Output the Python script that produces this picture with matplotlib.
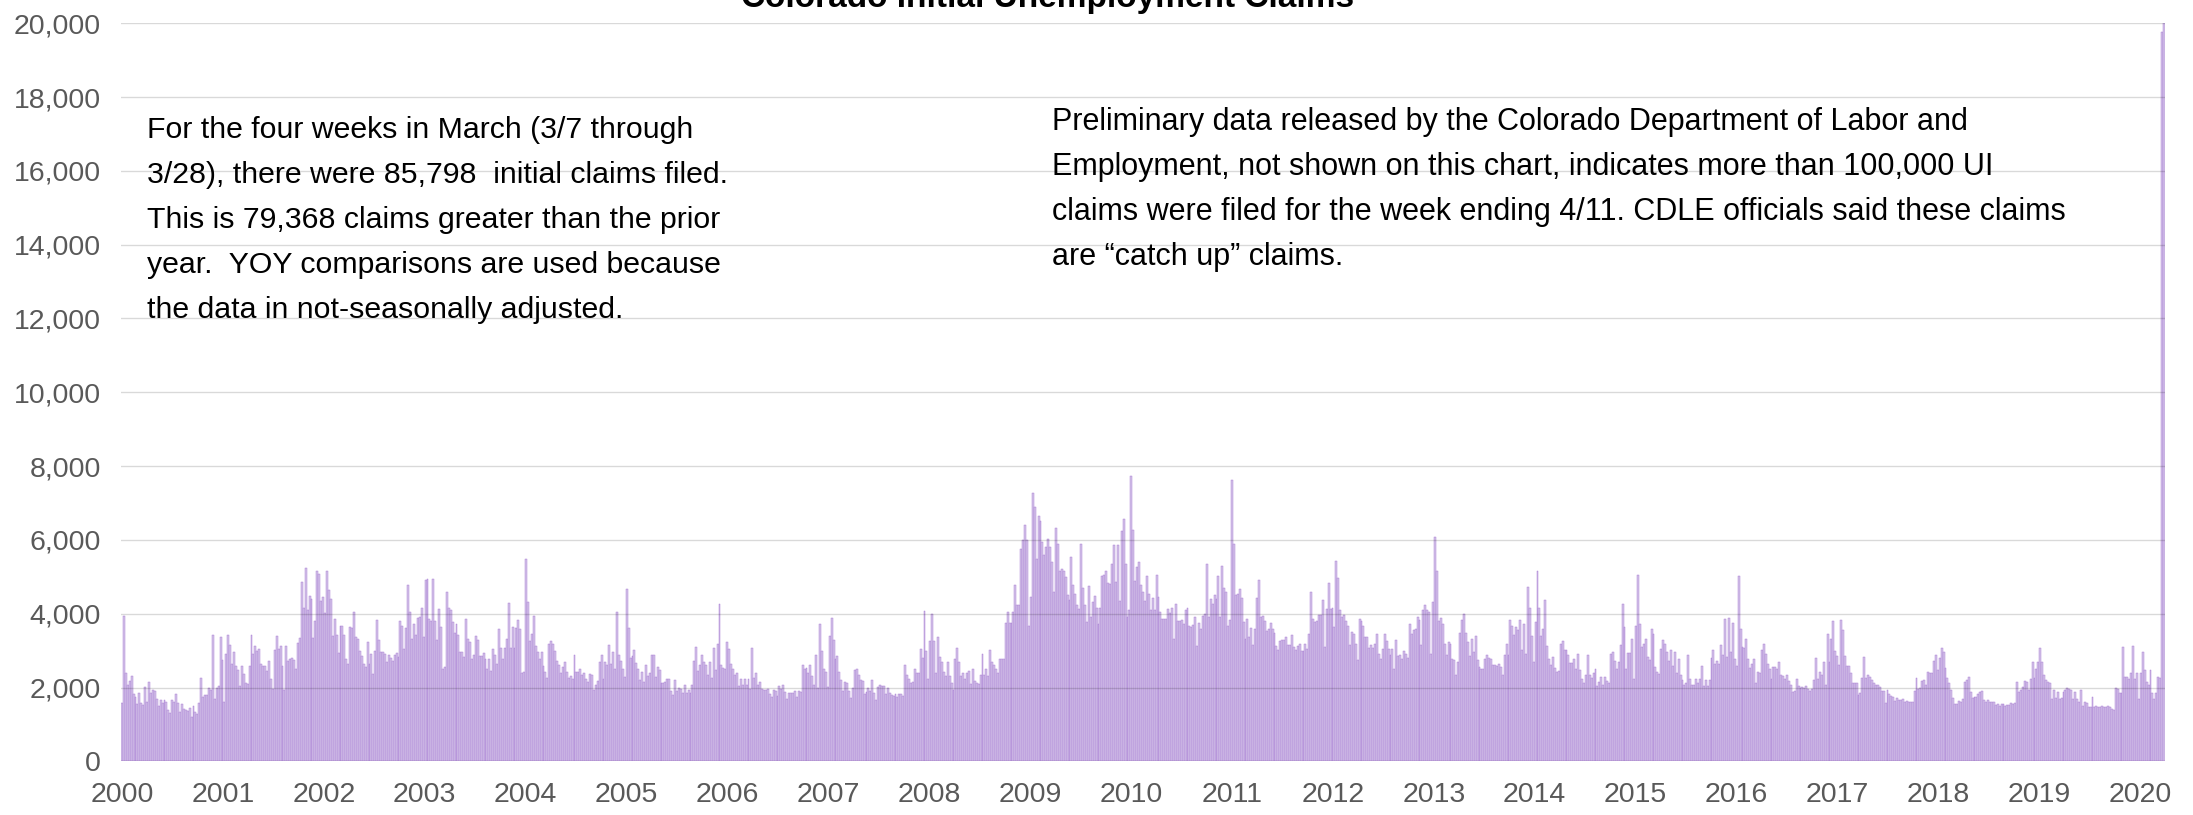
import matplotlib
matplotlib.use("Agg")
import matplotlib.pyplot as plt
import numpy as np
import pandas as pd

plt.rcParams['font.family'] = ['Liberation Sans', 'DejaVu Sans']

title = "Colorado Initial Unemployment Claims"

claims_2000 = [1570, 3950, 2380, 2060, 2170, 2300, 1820, 1750, 1540, 1840,
               1570, 1520, 2010, 1610, 2140, 1850, 1930, 1900, 1700, 1490,
               1660, 1570, 1660, 1610, 1390, 1320, 1650, 1610, 1820, 1570,
               1340, 1540, 1430, 1390, 1370, 1450, 1210, 1500, 1340, 1270,
               1570, 2260, 1730, 1790, 1790, 1990, 1930, 3430, 1680, 2000,
               2050, 3370, 2740]
claims_2001 = [1610, 2920, 3410, 3140, 2630, 2950, 2590, 2470, 2040, 2590,
               2360, 2110, 2090, 2590, 3430, 2920, 3120, 2980, 3040, 2630,
               2580, 2580, 2440, 2720, 2240, 1970, 3010, 3400, 3040, 3120,
               2590, 1930, 3120, 2710, 2770, 2800, 2740, 2510, 3210, 3340,
               4870, 4160, 5250, 4090, 4470, 4410, 3340, 3800, 5170, 5080,
               4340, 4440]
claims_2002 = [4030, 5170, 4650, 4390, 3390, 3860, 3410, 2940, 3680, 3660,
               3410, 2780, 2630, 3640, 3600, 4050, 3370, 3320, 2980, 2850,
               2650, 2560, 3220, 2650, 2900, 2360, 2980, 3840, 3280, 2960,
               2950, 2920, 2690, 2870, 2800, 2710, 2890, 2940, 2830, 3800,
               3660, 3040, 3610, 4780, 4050, 3310, 3710, 3410, 3890, 3910,
               4150, 3370]
claims_2003 = [4900, 4950, 3860, 3800, 4950, 3800, 3280, 4140, 3640, 2510,
               2560, 4590, 4160, 4090, 3770, 3480, 3730, 3410, 2960, 2960,
               2830, 3860, 3320, 3230, 2770, 2890, 3400, 3300, 2850, 2850,
               2930, 2770, 2490, 2780, 2440, 3040, 2890, 2650, 3580, 3080,
               2770, 3080, 3310, 4300, 3070, 3640, 3070, 3620, 3840, 3580,
               2380, 2410]
claims_2004 = [5490, 4320, 3250, 3440, 3950, 3120, 2950, 2770, 2960, 2590,
               2420, 2260, 3190, 3250, 3190, 2980, 2710, 2620, 2400, 2560,
               2680, 2420, 2260, 2310, 2240, 2890, 2420, 2420, 2510, 2330,
               2380, 2240, 2140, 2360, 2330, 1930, 2080, 2170, 2680, 2870,
               2230, 2690, 2600, 3140, 2630, 2960, 2510, 4050, 2870, 2710,
               2500, 2290]
claims_2005 = [4680, 3600, 2810, 2860, 3010, 2670, 2510, 2200, 2420, 2150,
               2600, 2320, 2380, 2890, 2890, 2290, 2560, 2470, 2110, 2110,
               2140, 2220, 2220, 1900, 1810, 2200, 1900, 2000, 1970, 1860,
               2060, 1860, 1930, 1860, 2060, 2710, 3100, 2440, 2620, 2870,
               2690, 2620, 2350, 2680, 2270, 3080, 2470, 3170, 4270, 2620,
               2530, 2500, 3230]
claims_2006 = [3030, 2650, 2510, 2330, 2380, 2040, 2230, 2080, 2230, 2060,
               2240, 1950, 3070, 2260, 2400, 2060, 2150, 1970, 1930, 1930,
               1970, 1820, 1730, 1930, 1910, 1770, 2040, 1950, 2060, 1880,
               1700, 1860, 1860, 1840, 1900, 1750, 1900, 1880, 2600, 2510,
               2530, 2400, 2600, 2300, 2080, 2870, 2000, 3730, 2980, 2490,
               2410, 2020]
claims_2007 = [3400, 3880, 3280, 2770, 2850, 2420, 2200, 1900, 2150, 2130,
               1900, 1720, 2000, 2470, 2490, 2330, 2200, 2170, 1820, 1880,
               2000, 1900, 2200, 1860, 1660, 2020, 2060, 2040, 2050, 1820,
               1990, 1840, 1790, 1770, 1820, 1730, 1820, 1820, 1770, 2600,
               2330, 2220, 2130, 2150, 2500, 2400, 2400, 3040, 2800, 4070,
               2990, 2240]
claims_2008 = [3250, 4000, 3260, 2400, 3370, 2830, 2680, 2420, 2310, 2680,
               2310, 2130, 1930, 2760, 3070, 2680, 2310, 2380, 2240, 2380,
               2440, 2090, 2490, 2180, 2110, 2090, 2330, 2920, 2330, 2490,
               2310, 3010, 2680, 2600, 2510, 2400, 2780, 2760, 2780, 3760,
               4050, 3760, 3750, 4050, 4790, 4230, 4230, 5760, 6010, 6410,
               6000, 3680]
claims_2009 = [4450, 7270, 6880, 5470, 6660, 6520, 5950, 5580, 5800, 6030,
               5800, 5400, 4590, 6320, 5890, 5170, 5200, 5170, 4990, 4500,
               4360, 5530, 4790, 4540, 4230, 4120, 5890, 4700, 4230, 3770,
               4740, 3910, 4330, 4480, 4160, 3710, 4160, 5010, 5040, 5150,
               4840, 4810, 5350, 5850, 4860, 5850, 4340, 6230, 6570, 5350,
               3910, 4110]
claims_2010 = [7720, 6270, 4880, 5260, 5400, 4790, 4590, 4340, 5020, 4540,
               4090, 4430, 4090, 5040, 4450, 4050, 3860, 3860, 3860, 4120,
               4020, 4160, 3320, 4270, 3800, 3800, 3820, 3730, 4100, 4160,
               3660, 3640, 3700, 3900, 3120, 3750, 3580, 3950, 4000, 5350,
               3900, 4390, 4250, 4500, 4390, 5020, 3900, 5280, 4700, 4590,
               3660, 3820]
claims_2011 = [7630, 5890, 4500, 4540, 4660, 4420, 3770, 3320, 3850, 3370,
               3620, 3160, 3580, 4420, 4900, 3910, 3930, 3800, 3530, 3580,
               3750, 3590, 3480, 3130, 3010, 3260, 3300, 3300, 3370, 3140,
               3140, 3410, 3100, 3010, 3130, 3190, 2980, 3000, 3190, 3050,
               3460, 4600, 3860, 3770, 3790, 3970, 3970, 4360, 3100, 4140,
               4830, 4140, 4160]
claims_2012 = [3640, 5440, 4960, 4090, 3910, 3970, 3800, 3680, 3140, 3500,
               3440, 3190, 2740, 3860, 3800, 3680, 3370, 3370, 3070, 3140,
               3070, 3190, 3440, 2900, 2770, 3040, 3460, 3250, 3050, 2890,
               3050, 2500, 3300, 2860, 2870, 2770, 2990, 2920, 2800, 3730,
               3460, 3570, 3590, 3910, 3830, 3160, 4090, 4240, 4090, 4050,
               2920, 4320]
claims_2013 = [6070, 5170, 3800, 3890, 3730, 3170, 2870, 3230, 3190, 2780,
               2740, 2330, 2700, 3490, 3820, 4000, 3490, 3220, 2860, 3320,
               2960, 3390, 2740, 2560, 2500, 2510, 2770, 2890, 2800, 2760,
               2620, 2600, 2590, 2650, 2560, 2330, 2870, 3170, 2870, 3840,
               3670, 3410, 3640, 3550, 3840, 3010, 3730, 2900, 4720, 4160,
               3390, 2680]
claims_2014 = [3770, 5150, 4160, 3390, 3590, 4360, 3120, 2780, 2620, 2830,
               2530, 2420, 2440, 3190, 3250, 3010, 3010, 2890, 2670, 2670,
               2770, 2500, 2920, 2470, 2230, 2110, 2350, 2890, 2330, 2260,
               2380, 2490, 2040, 2150, 2290, 2060, 2290, 2180, 2110, 2900,
               2950, 2720, 2510, 2680, 3140, 4250, 3640, 2510, 2940, 2940,
               3320, 2220]
claims_2015 = [3670, 5060, 3730, 3100, 3190, 3320, 2830, 2740, 3590, 3460,
               2560, 2410, 2360, 3050, 3300, 3190, 2960, 2710, 3010, 2590,
               2960, 2380, 2760, 2330, 2200, 2060, 2130, 2870, 2230, 2080,
               2080, 2220, 2110, 2240, 2580, 2050, 2200, 2040, 2200, 2810,
               3010, 2630, 2710, 2630, 3160, 2870, 3860, 2830, 3890, 2960,
               3750, 2780]
claims_2016 = [2590, 5010, 3590, 3100, 3070, 3320, 2780, 2530, 2650, 2770,
               2110, 2420, 2380, 3010, 3190, 2920, 2650, 2510, 2240, 2560,
               2560, 2510, 2680, 2330, 2300, 2240, 2330, 2170, 2060, 1880,
               1910, 2240, 2050, 1990, 2020, 2000, 2050, 1950, 1900, 1950,
               2200, 2800, 2240, 2410, 2330, 2690, 2060, 3440, 2690, 3320,
               3800, 2980, 2850]
claims_2017 = [2600, 3820, 3550, 2850, 2590, 2590, 2380, 2110, 2110, 2110,
               1790, 1840, 2260, 2830, 2260, 2330, 2290, 2190, 2130, 2080,
               2060, 2010, 1900, 1900, 1570, 1940, 1820, 1780, 1750, 1640,
               1710, 1650, 1650, 1680, 1600, 1640, 1600, 1610, 1610, 1900,
               2260, 1960, 1990, 2180, 2190, 2080, 2430, 2380, 2400, 2710,
               2880, 2470]
claims_2018 = [2790, 3070, 2960, 2540, 2260, 2130, 1920, 1710, 1540, 1540,
               1640, 1600, 1680, 2150, 2190, 2290, 1880, 1710, 1740, 1750,
               1820, 1880, 1900, 1670, 1610, 1650, 1610, 1610, 1600, 1530,
               1560, 1500, 1540, 1540, 1510, 1530, 1530, 1570, 1540, 1570,
               2150, 1880, 1920, 2010, 2170, 2150, 1940, 2240, 2680, 2260,
               2510, 2680]
claims_2019 = [3070, 2680, 2330, 2190, 2150, 2130, 1700, 1920, 1710, 1880,
               1680, 1710, 1880, 1920, 1990, 1960, 1920, 1680, 1880, 1680,
               1600, 1920, 1500, 1610, 1570, 1460, 1460, 1740, 1480, 1500,
               1460, 1460, 1490, 1470, 1470, 1490, 1460, 1430, 1400, 1990,
               1960, 1850, 1850, 3100, 2290, 2290, 2240, 2400, 3130, 2240,
               2380, 1680]
claims_2020 = [2400, 2960, 2470, 2150, 2060, 2470, 1850, 1680, 1850, 2290,
               2260, 19760, 61488]

first_week = "2000-01-01"
years = list(range(2000, 2021))
year_labels = [str(y) for y in years]
y_ticks = list(range(0, 20001, 2000))

note_left = ["For the four weeks in March (3/7 through",
             "3/28), there were 85,798  initial claims filed.",
             "This is 79,368 claims greater than the prior",
             "year.  YOY comparisons are used because",
             "the data in not-seasonally adjusted."]
note_right = ["Preliminary data released by the Colorado Department of Labor and",
              "Employment, not shown on this chart, indicates more than 100,000 UI",
              "claims were filed for the week ending 4/11. CDLE officials said these claims",
              "are \u201ccatch up\u201d claims."]

values = np.array(claims_2000 + claims_2001 + claims_2002 + claims_2003 + claims_2004 +
                  claims_2005 + claims_2006 + claims_2007 + claims_2008 + claims_2009 +
                  claims_2010 + claims_2011 + claims_2012 + claims_2013 + claims_2014 +
                  claims_2015 + claims_2016 + claims_2017 + claims_2018 + claims_2019 +
                  claims_2020)
dates = pd.date_range(first_week, periods=len(values), freq="7D")

W, H = 2193, 815
fig = plt.figure(figsize=(W / 100, H / 100), dpi=100)
left_px, right_px = 121.0, 2165.0
bottom_px, top_px = 761.3, 23.3
ax = fig.add_axes([left_px / W, 1 - bottom_px / H,
                   (right_px - left_px) / W, (bottom_px - top_px) / H])

ax.bar(dates, values, width=7, align="center", color="#d4c4e8",
       edgecolor="#a272d0", linewidth=0.3, zorder=1)

ax.set_ylim(0, 20000)
ax.set_xlim(pd.Timestamp(first_week) - pd.Timedelta(days=3.5),
            dates[-1] + pd.Timedelta(days=3.5))
ax.set_yticks(y_ticks)
ax.set_yticklabels([f"{v:,}" for v in y_ticks])
ax.set_xticks([pd.Timestamp(f"{y}-01-01") for y in years])
ax.set_xticklabels(year_labels)
ax.yaxis.grid(True, color="black", alpha=0.15, linewidth=1.0)
ax.set_axisbelow(False)
for s in ax.spines.values():
    s.set_visible(False)
ax.tick_params(axis="both", length=0, colors="#595959", labelsize=20.5)
ax.tick_params(axis="x", pad=15)
ax.tick_params(axis="y", pad=14.5)

fig.text(1048 / W, 1 - 7 / H, title, ha="center", va="baseline",
         fontsize=24, fontweight="bold", color="black")

for i, line in enumerate(note_left):
    fig.text(147 / W, 1 - (138 + 45 * i) / H, line, ha="left", va="baseline",
             fontsize=21.8, color="black")
for i, line in enumerate(note_right):
    fig.text(1052 / W, 1 - (130 + 45 * i) / H, line, ha="left", va="baseline",
             fontsize=22, color="black")

fig.savefig("out.png", dpi=100)
